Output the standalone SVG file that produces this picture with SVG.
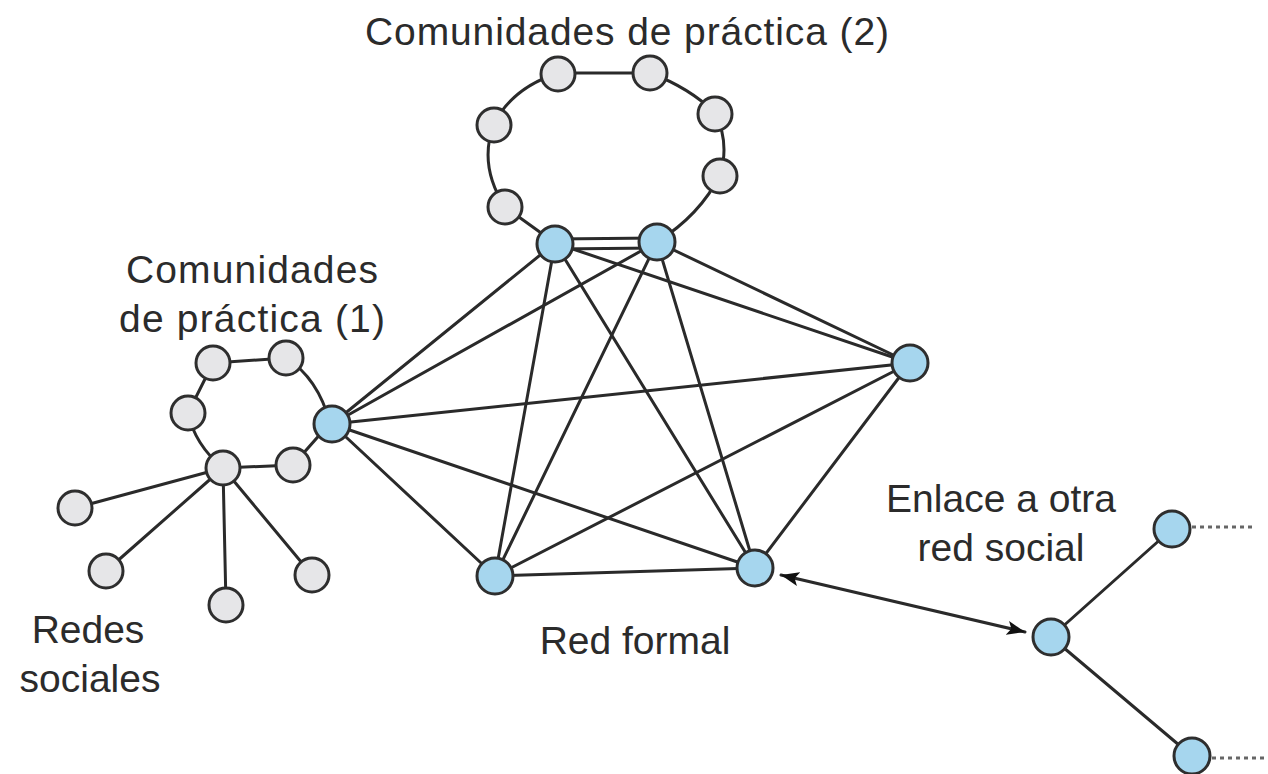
<svg xmlns="http://www.w3.org/2000/svg" width="1268" height="774" viewBox="0 0 1268 774">
<style>
.e{stroke:#2a2a2a;stroke-width:3;fill:none;stroke-linecap:round}
.d{stroke:#666;stroke-width:3;stroke-dasharray:4 4;fill:none}
.b{fill:#a6d6ee;stroke:#2e2e2e;stroke-width:3}
.g{fill:#e6e6e8;stroke:#2e2e2e;stroke-width:3}
.t{font-family:"Liberation Sans",Arial,sans-serif;font-size:39px;fill:#2b2b2b;text-anchor:middle}
</style>
<defs>
<marker id="ah" viewBox="0 0 18 14" refX="18" refY="7" markerWidth="18" markerHeight="14" markerUnits="userSpaceOnUse" orient="auto-start-reverse">
<path d="M0,0 L18,7 L0,14 L4,7 Z" fill="#111"/>
</marker>
</defs>
<rect width="1268" height="774" fill="#fff"/>
<g id="connectors">
<path class="e" d="M555,243 L505,207 Q478,165 494,124 Q512,88 558,73 L650,73 Q690,88 715,113 Q730,143 720,175 Q700,215 657,242"/>
<line class="e" x1="555" y1="239" x2="657" y2="238"/>
<line class="e" x1="555" y1="249" x2="657" y2="248"/>
<path class="e" d="M213,363 L286,358 Q318,378 330,423 L293,465 L223,468 Q195,445 188,413 Z"/>
<line class="e" x1="223" y1="468" x2="75" y2="508"/>
<line class="e" x1="223" y1="468" x2="106" y2="571"/>
<line class="e" x1="223" y1="468" x2="226" y2="605"/>
<line class="e" x1="223" y1="468" x2="312" y2="575"/>
<line class="e" x1="555" y1="243" x2="910" y2="363"/>
<line class="e" x1="555" y1="243" x2="332" y2="424"/>
<line class="e" x1="555" y1="243" x2="495" y2="576"/>
<line class="e" x1="555" y1="243" x2="755" y2="568"/>
<line class="e" x1="657" y1="242" x2="910" y2="363"/>
<line class="e" x1="657" y1="242" x2="332" y2="424"/>
<line class="e" x1="657" y1="242" x2="495" y2="576"/>
<line class="e" x1="657" y1="242" x2="755" y2="568"/>
<line class="e" x1="910" y1="363" x2="332" y2="424"/>
<line class="e" x1="910" y1="363" x2="495" y2="576"/>
<line class="e" x1="910" y1="363" x2="755" y2="568"/>
<line class="e" x1="332" y1="424" x2="495" y2="576"/>
<line class="e" x1="332" y1="424" x2="755" y2="568"/>
<line class="e" x1="495" y1="576" x2="755" y2="568"/>
<line class="e" x1="781" y1="575" x2="1025" y2="632" marker-start="url(#ah)" marker-end="url(#ah)"/>
<line class="e" x1="1051" y1="637" x2="1172" y2="529"/>
<line class="e" x1="1051" y1="637" x2="1192" y2="756"/>
<line class="d" x1="1192" y1="527" x2="1256" y2="527"/>
<line class="d" x1="1212" y1="758" x2="1268" y2="758"/>
</g>
<g id="ring2-nodes">
<circle class="g" cx="558" cy="74" r="17"/>
<circle class="g" cx="650" cy="73" r="17"/>
<circle class="g" cx="715" cy="114" r="17"/>
<circle class="g" cx="720" cy="176" r="17"/>
<circle class="g" cx="494" cy="125" r="17"/>
<circle class="g" cx="505" cy="207" r="17"/>
</g>
<g id="ring1-nodes">
<circle class="g" cx="213" cy="363" r="17"/>
<circle class="g" cx="286" cy="358" r="17"/>
<circle class="g" cx="188" cy="413" r="17"/>
<circle class="g" cx="293" cy="465" r="17"/>
<circle class="g" cx="223" cy="468" r="17"/>
</g>
<g id="social-nodes">
<circle class="g" cx="75" cy="508" r="17"/>
<circle class="g" cx="106" cy="571" r="17"/>
<circle class="g" cx="226" cy="605" r="17"/>
<circle class="g" cx="312" cy="575" r="17"/>
</g>
<g id="formal-nodes">
<circle id="nA" class="b" cx="555" cy="244" r="18"/>
<circle id="nB" class="b" cx="657" cy="242" r="18"/>
<circle id="nC" class="b" cx="910" cy="363" r="18"/>
<circle id="nD" class="b" cx="332" cy="424" r="18"/>
<circle id="nE" class="b" cx="495" cy="576" r="18"/>
<circle id="nF" class="b" cx="755" cy="568" r="18"/>
</g>
<g id="other-nodes">
<circle id="nG" class="b" cx="1051" cy="637" r="18"/>
<circle id="nH" class="b" cx="1172" cy="529" r="18"/>
<circle id="nI" class="b" cx="1192" cy="756" r="18"/>
</g>
<g id="labels">
<text class="t" x="627" y="45" textLength="524" lengthAdjust="spacing">Comunidades de práctica (2)</text>
<text class="t" x="252" y="283" textLength="252" lengthAdjust="spacing">Comunidades</text>
<text class="t" x="252" y="332" textLength="266" lengthAdjust="spacing">de práctica (1)</text>
<text class="t" x="88" y="643">Redes</text>
<text class="t" x="90" y="692">sociales</text>
<text class="t" x="635" y="654">Red formal</text>
<text class="t" x="1001" y="512">Enlace a otra</text>
<text class="t" x="1001" y="561">red social</text>
</g>
</svg>
